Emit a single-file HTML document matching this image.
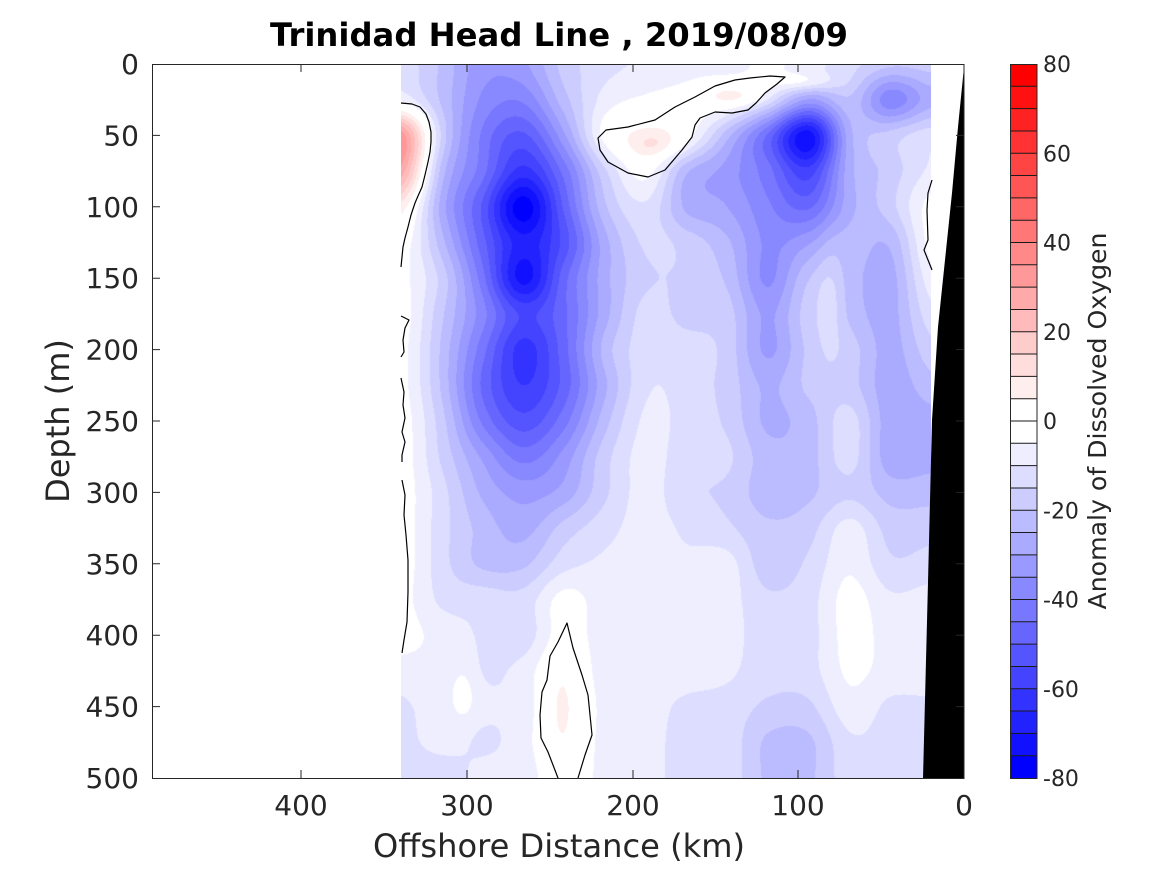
<!DOCTYPE html>
<html><head><meta charset="utf-8"><style>
html,body{margin:0;padding:0;background:#fff;}
#wrap{position:relative;width:1167px;height:875px;overflow:hidden;background:#fff;}
canvas{position:absolute;left:401px;top:64px;}
svg{position:absolute;left:0;top:0;}
</style></head><body><div id="wrap">
<canvas id="c" width="530" height="714"></canvas>
<svg width="1167" height="875" xmlns="http://www.w3.org/2000/svg" font-family="DejaVu Sans, Liberation Sans, sans-serif">
<polygon points="964,67 958,127 952,193 945,260 938,327 932,420 928,582 923,778.5 964,778.5" fill="#000"/>
<g fill="none" stroke="#000" stroke-width="1.2" stroke-linejoin="round">
<polyline points="401,103 412,104 420,107 426,114 429,122 431,132 431,142 430,152 428,162 425,175 422,187 418,196 415,203 411,215 408,227 405,238 403,247 402,257 401,267"/>
<polyline points="401,316 409,320 405,328 403,340 404,352 401,357"/>
<polyline points="401,378 404,392 403,405 405,418 402,432 405,442 402,455 402,462"/>
<polyline points="402,480 405,495 404,515 406,535 408,560 408,592 407,622 404,640 402,653"/>
<polygon points="598,138 606,130 628,127 655,120 675,107 695,97 715,86 735,80 750,78 770,76 785,77 777,84 765,93 756,103 748,110 732,113 715,112 700,118 695,125 692,137 682,150 665,170 648,177 628,173 608,162 600,150"/>
<polyline points="932,180 928,193 927,210 928,240 924,250 928,260 932,270"/>
<polyline points="558,778 548,752 541,738 540,715 542,692 547,680 550,656 558,642 567,623 573,648 582,675 588,695 592,735 585,755 578,778"/>
</g>
<g stroke="#262626" stroke-width="1" fill="none">
<rect x="152.5" y="64.5" width="811.5" height="714"/>
<path d="M301,778V770M467,778V770M633,778V770M798,778V770M301,64V72M467,64V72M633,64V72M798,64V72"/>
<path d="M152,135.4H160M152,206.8H160M152,278.2H160M152,349.6H160M152,421H160M152,492.4H160M152,563.8H160M152,635.2H160M152,706.6H160M964,135.4H956M964,206.8H956M964,278.2H956M964,349.6H956M964,421H956M964,492.4H956M964,563.8H956M964,635.2H956M964,706.6H956"/>
</g>
<g id="cb"></g>
<g fill="#262626" font-size="28" text-anchor="end">
<text x="139" y="74">0</text><text x="139" y="145.4">50</text><text x="139" y="216.8">100</text><text x="139" y="288.2">150</text><text x="139" y="359.6">200</text><text x="139" y="431">250</text><text x="139" y="502.4">300</text><text x="139" y="573.8">350</text><text x="139" y="645.2">400</text><text x="139" y="716.6">450</text><text x="139" y="788">500</text>
</g>
<g fill="#262626" font-size="28" text-anchor="middle">
<text x="301" y="815">400</text><text x="467" y="815">300</text><text x="633" y="815">200</text><text x="798" y="815">100</text><text x="964" y="815">0</text>
</g>
<text x="559" y="857" fill="#262626" font-size="32" text-anchor="middle" textLength="372" lengthAdjust="spacingAndGlyphs">Offshore Distance (km)</text>
<text transform="translate(69,421) rotate(-90)" fill="#262626" font-size="32" text-anchor="middle">Depth (m)</text>
<text x="559" y="46" fill="#000" font-size="32" font-weight="bold" text-anchor="middle" textLength="578" lengthAdjust="spacingAndGlyphs">Trinidad Head Line , 2019/08/09</text>
<g fill="#262626" font-size="22">
<text x="1043" y="72">80</text><text x="1043" y="161.25">60</text><text x="1043" y="250.5">40</text><text x="1043" y="339.75">20</text><text x="1043" y="429">0</text><text x="1043" y="518.25">-20</text><text x="1043" y="607.5">-40</text><text x="1043" y="696.75">-60</text><text x="1043" y="786">-80</text>
</g>
<text transform="translate(1106,421) rotate(-90)" fill="#262626" font-size="25" text-anchor="middle" textLength="377" lengthAdjust="spacingAndGlyphs">Anomaly of Dissolved Oxygen</text>
</svg>
</div>
<script>
(function(){
function col(k){
  if(k>15)k=15; if(k<-15)k=-15;
  if(k>=0){var v=255-17*k;return [255,v,v];}
  var v=255+17*k;return [v,v,255];
}
var ns="http://www.w3.org/2000/svg";
var cb=document.getElementById('cb');
var h=714/32;
for(var i=0;i<32;i++){
  var k=i<16?15-i:-(i-16);
  var c=col(k);
  var r=document.createElementNS(ns,'rect');
  r.setAttribute('x',1010.5);r.setAttribute('y',64+i*h);
  r.setAttribute('width',26.5);r.setAttribute('height',h+0.3);
  r.setAttribute('fill','rgb('+c[0]+','+c[1]+','+c[2]+')');
  cb.appendChild(r);
}
for(var i=1;i<32;i++){
  var l=document.createElementNS(ns,'line');
  var y=(64+i*h).toFixed(2);
  l.setAttribute('x1',1010.5);l.setAttribute('x2',1037);l.setAttribute('y1',y);l.setAttribute('y2',y);
  l.setAttribute('stroke','#1a1a1a');l.setAttribute('stroke-width','1');
  cb.appendChild(l);
}
var bo=document.createElementNS(ns,'rect');
bo.setAttribute('x',1010.5);bo.setAttribute('y',64.5);bo.setAttribute('width',26.5);bo.setAttribute('height',714);
bo.setAttribute('fill','none');bo.setAttribute('stroke','#262626');
cb.appendChild(bo);

var G=[
[-12,-21,-33,-31,-18,-12,-9,-7,-7,-4,-8,-13,-19,-18],
[-6,-21,-36,-39,-22,-8,-4,-3,-2,-13,-31,-21,-38,-27],
[33,-16,-41,-51,-31,-3,4,-3,-23,-46,-73,-27,-18,-12],
[28,-22,-43,-62,-43,-16,-3,-24,-32,-43,-58,-27,-18,-9],
[8,-27,-51,-78,-49,-21,-11,-26,-30,-39,-46,-27,-17,-3],
[-1,-23,-48,-68,-53,-27,-14,-17,-24,-36,-31,-23,-24,-3],
[-3,-17,-43,-72,-47,-27,-16,-16,-21,-36,-21,-23,-27,-7],
[-2,-19,-38,-56,-46,-27,-13,-17,-18,-31,-18,-22,-27,-12],
[-3,-21,-43,-62,-47,-23,-12,-12,-17,-31,-19,-18,-27,-17],
[-3,-21,-46,-60,-48,-26,-11,-12,-17,-26,-19,-18,-28,-22],
[-2,-18,-41,-53,-42,-22,-9,-12,-16,-26,-22,-13,-28,-27],
[-2,-16,-31,-42,-33,-17,-8,-13,-14,-23,-22,-13,-28,-27],
[-2,-13,-26,-32,-28,-16,-8,-14,-16,-23,-21,-16,-22,-22],
[-2,-13,-22,-27,-18,-12,-8,-11,-14,-19,-17,-8,-17,-17],
[-2,-13,-21,-21,-12,-9,-8,-9,-8,-18,-14,-6,-14,-13],
[-3,-11,-12,-13,-3,-8,-8,-8,-8,-14,-12,-3,-9,-8],
[-3,-7,-11,-13,-2,-8,-8,-8,-8,-13,-12,-3,-7,-7],
[-7,-7,-11,-8,2,-8,-8,-8,-9,-13,-12,-4,-7,-7],
[-11,-7,-9,-8,4,-7,-8,-11,-12,-16,-16,-7,-11,-11],
[-12,-8,-11,-7,2,-7,-8,-12,-12,-21,-21,-11,-12,-12],
[-13,-14,-8,-8,0,-7,-8,-12,-12,-21,-21,-12,-12,-12]
];
var NR=21,NC=14;
var B=[[655,145,8,18,10],[735,96,9,22,7],[805,82,11,22,7],[465,690,5,10,25],[562,712,5,4,18],[830,300,7,10,40]];
function g(r,c){if(r<0)r=0;if(r>=NR)r=NR-1;if(c<0)c=0;if(c>=NC)c=NC-1;return G[r][c];}
function cr(p0,p1,p2,p3,t){return p1+0.5*t*(p2-p0+t*(2*p0-5*p1+4*p2-p3+t*(3*(p1-p2)+p3-p0)));}
var cv=document.getElementById('c'),ctx=cv.getContext('2d');
var W=530,H=714,img=ctx.createImageData(W,H),d=img.data;
var dx=W/(NC-1),dy=H/(NR-1);
for(var py=0;py<H;py++){
  var gy=(py+0.5)/dy,r=Math.floor(gy),ty=gy-r;
  var Y=64+py+0.5;
  for(var px=0;px<W;px++){
    var gx=(px+0.5)/dx,c=Math.floor(gx),tx=gx-c;
    var rows=[];
    for(var j=-1;j<=2;j++){rows.push(cr(g(r+j,c-1),g(r+j,c),g(r+j,c+1),g(r+j,c+2),tx));}
    var v=cr(rows[0],rows[1],rows[2],rows[3],ty);
    var X=401+px+0.5;
    for(var b=0;b<B.length;b++){var q=B[b];var ax=(X-q[0])/q[3],ay=(Y-q[1])/q[4];var e=ax*ax+ay*ay;if(e<20)v+=q[2]*Math.exp(-0.5*e);}
    var k=Math.trunc(v/5);
    var cc=col(k);
    var o=(py*W+px)*4;
    d[o]=cc[0];d[o+1]=cc[1];d[o+2]=cc[2];d[o+3]=255;
  }
}
ctx.putImageData(img,0,0);
})();
</script>
</body></html>
